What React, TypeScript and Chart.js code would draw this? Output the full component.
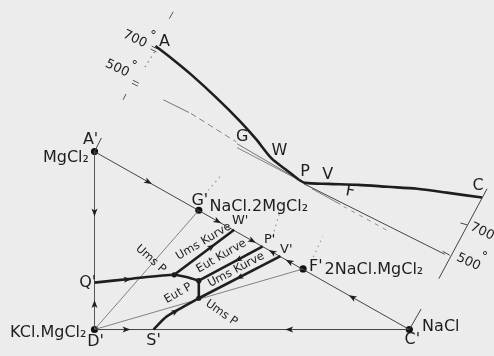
import { useEffect, useRef } from "react";
import { Chart, registerables } from "chart.js";
Chart.register(...registerables);

type P = [number, number];

// ---- bottom (projection) triangle: named points ----
const Ap: P = [92, 151];
const Dp: P = [92, 333];
const Cp: P = [412, 333];
const Gp: P = [198, 211];
const Fp: P = [304, 271];
const Wp: P = [234, 231];
const Pp: P = [263, 248];
const Vp: P = [281, 258];
const Qp: P = [92, 285];
const Sp: P = [152, 333];
const E1: P = [173, 277];
const E2: P = [198, 283];
const E3: P = [198, 301];

// ---- upper (space) curves ----
const curveAP: P[] = [[154, 43], [172, 57], [190, 72], [215, 95], [240, 120], [256, 138], [272, 158], [286, 169], [300, 180]];
const curvePC: P[] = [[300, 180], [306, 183], [330, 184], [360, 185], [390, 187], [420, 189], [450, 193], [486, 198]];

// ---- thick crystallisation paths (bottom) ----
const curveQ: P[] = [Qp, [130, 281], E1, [188, 280], E2];
const curveUms1: P[] = [E1, Wp];
const curveEut: P[] = [E2, Pp];
const curveVert: P[] = [E2, E3];
const curveUms2: P[] = [E3, Vp];
const curveS: P[] = [Sp, [165, 320], [180, 311], E3];

// ---- thin lines ----
const triAD: P[] = [Ap, Dp];
const triDC: P[] = [Dp, Cp];
const triAC: P[] = [Ap, Cp];
const tieDG: P[] = [Dp, Gp];
const tieDF: P[] = [Dp, Fp];
const tickA: P[] = [Ap, [99, 137]];
const tickC: P[] = [Cp, [424, 312]];

const gLine1: P[] = [[162, 98], [188, 111]];
const gDash: P[] = [[190, 112], [236, 141]];
const gLine2: P[] = [[237, 143], [300, 180]];
const gLine3: P[] = [[237, 147], [296, 178]];
const pLine: P[] = [[305, 184], [448, 256]];
const pShort: P[] = [[313, 189], [342, 205]];
const pDash: P[] = [[345, 207], [392, 233]];
const cAxis: P[] = [[491, 189], [442, 281]];
const cTick700: P[] = [[464, 224], [471, 226]];
const cTick500: P[] = [[446, 253], [453, 257]];
const aAxisTop: P[] = [[172, 8], [168, 15]];
const aTick700a: P[] = [[150, 43], [156, 46]];
const aTick700b: P[] = [[149, 46], [155, 49]];
const aTick500a: P[] = [[131, 78], [137, 81]];
const aTick500b: P[] = [[130, 81], [136, 84]];
const aDashLow: P[] = [[124, 92], [121, 98]];

// dotted lines
const aDots: P[] = [[153, 49], [141, 68]];
const gDots: P[] = [[204, 195], [220, 176]];
const pDots: P[] = [[273, 238], [284, 200]];
const fDots: P[] = [[312, 264], [324, 238]];

// dots
const bigDots: P[] = [Ap, Dp, Cp, Gp, Fp];
const smallDots: P[] = [E1, E2, E3];

// arrows: [from, to, fraction along]
const arrows: [P, P, number][] = [
  [Ap, Cp, 0.17], [Ap, Cp, 0.39], [Ap, Cp, 0.5],
  [Cp, Ap, 0.434], [Cp, Ap, 0.38], [Cp, Ap, 0.18],
  [Ap, Dp, 0.34], [Dp, Ap, 0.14],
  [Dp, Cp, 0.1], [Cp, Dp, 0.38],
  [Qp, E1, 0.41], [E1, Wp, 0.62], [Pp, E2, 0.38], [Vp, E3, 0.5],
  [[165, 320], [180, 311], 0.6],
];

// labels: [text, x, y, angle°]
const bigLabels: [string, number, number, number][] = [
  ["A'", 88, 139, 0], ["MgCl₂", 63, 157, 0], ["G'", 199, 201, 0],
  ["NaCl.2MgCl₂", 259, 207, 0], ["F'", 317, 269, 0], ["2NaCl.MgCl₂", 376, 272, 0],
  ["Q'", 85, 285, 0], ["KCl.MgCl₂", 45, 336, 0], ["D'", 93, 346, 0],
  ["S'", 152, 345, 0], ["C'", 415, 344, 0], ["NaCl", 444, 330, 0],
  ["A", 163, 39, 0], ["G", 242, 136, 0], ["W", 280, 150, 0], ["P", 306, 172, 0],
  ["V", 329, 175, 0], ["F", 352, 192, 10], ["C", 482, 186, 0],
];
const midLabels: [string, number, number, number][] = [
  ["W'", 240, 222, 0], ["P'", 270, 241, 0], ["V'", 287, 251, 0],
  ["700", 133, 36, 25], ["°", 152, 32, 0], ["500", 115, 66, 25], ["°", 133, 63, 0],
  ["700", 486, 233, 25], ["500", 472, 264, 25], ["°", 489, 258, 0],
];
const smallLabels: [string, number, number, number][] = [
  ["Ums Kurve", 203, 243, -31], ["Eut Kurve", 221, 258, -30], ["Ums Kurve", 236, 272, -28],
  ["Ums P", 149, 261, 42], ["Eut P", 177, 296, -30], ["Ums P", 221, 316, 35],
];

const INK = "#1e1e1e";

export default function App() {
  const ref = useRef<HTMLCanvasElement>(null);
  useEffect(() => {
    const toXY = (pts: P[]) => pts.map(([x, y]) => ({ x, y }));
    const line = (pts: P[], width: number, color = INK, dash: number[] = [], tension = 0) => ({
      data: toXY(pts), showLine: true, borderColor: color, borderWidth: width, borderDash: dash,
      pointRadius: 0, tension, fill: false,
    });
    const thick = 2.6;
    const datasets: any[] = [
      line(curveAP, thick, INK, [], 0.3), line(curvePC, thick, INK, [], 0.3),
      line(curveQ, thick, INK, [], 0.2), line(curveUms1, thick), line(curveEut, thick),
      line(curveVert, thick), line(curveUms2, thick), line(curveS, thick, INK, [], 0.3),
      line(triAD, 1, "#555"), line(triDC, 1, "#444"), line(triAC, 1, "#444"),
      line(tieDG, 0.8, "#666"), line(tieDF, 0.8, "#666"), line(tickA, 1, "#444"), line(tickC, 1, "#444"),
      line(gLine1, 0.8, "#555"), line(gDash, 0.8, "#666", [6, 4]), line(gLine2, 0.8, "#555"), line(gLine3, 0.8, "#666"),
      line(pLine, 1, "#444"), line(pShort, 0.8, "#666"), line(pDash, 0.8, "#777", [4, 5]),
      line(cAxis, 1, "#444"), line(cTick700, 1, "#444"), line(cTick500, 1, "#444"),
      line(aAxisTop, 1, "#555"), line(aTick700a, 1, "#555"), line(aTick700b, 1, "#555"),
      line(aTick500a, 1, "#555"), line(aTick500b, 1, "#555"), line(aDashLow, 1, "#555"),
      line(aDots, 1.2, "#888", [1.5, 4]), line(gDots, 1.2, "#999", [1.5, 4]),
      line(pDots, 1.2, "#999", [1.5, 4]), line(fDots, 1.2, "#999", [1.5, 4]),
      { data: toXY(bigDots), pointRadius: 3.6, pointBackgroundColor: "#111", pointBorderWidth: 0, showLine: false },
      { data: toXY(smallDots), pointRadius: 2.6, pointBackgroundColor: "#111", pointBorderWidth: 0, showLine: false },
    ];

    const deco = {
      id: "deco",
      beforeDraw(chart: any) {
        const c = chart.ctx;
        c.save();
        c.fillStyle = "#ececec";
        c.fillRect(0, 0, chart.width, chart.height);
        c.restore();
      },
      afterDatasetsDraw(chart: any) {
        const c = chart.ctx;
        const sx = chart.scales.x, sy = chart.scales.y;
        const px = (p: P): P => [sx.getPixelForValue(p[0]), sy.getPixelForValue(p[1])];
        c.save();
        c.fillStyle = INK;
        for (const [a, b, t] of arrows) {
          const pa = px(a), pb = px(b);
          const x = pa[0] + (pb[0] - pa[0]) * t, y = pa[1] + (pb[1] - pa[1]) * t;
          const ang = Math.atan2(pb[1] - pa[1], pb[0] - pa[0]);
          c.save();
          c.translate(x, y);
          c.rotate(ang);
          c.beginPath();
          c.moveTo(4.5, 0);
          c.lineTo(-3.5, -3);
          c.lineTo(-1.5, 0);
          c.lineTo(-3.5, 3);
          c.closePath();
          c.fill();
          c.restore();
        }
        const txt = (list: [string, number, number, number][], font: string) => {
          c.font = font;
          c.textAlign = "center";
          c.textBaseline = "middle";
          for (const [s, x, y, a] of list) {
            const [X, Y] = px([x, y]);
            c.save();
            c.translate(X, Y);
            c.rotate((a * Math.PI) / 180);
            c.fillText(s, 0, 0);
            c.restore();
          }
        };
        c.fillStyle = INK;
        txt(bigLabels, "16px 'DejaVu Sans'");
        txt(midLabels, "13px 'DejaVu Sans'");
        txt(smallLabels, "11.5px 'DejaVu Sans'");
        c.restore();
      },
    };

    const chart = new Chart(ref.current!, {
      type: "scatter",
      data: { datasets },
      options: {
        animation: false,
        responsive: false,
        events: [],
        layout: { padding: 0 },
        plugins: { legend: { display: false }, tooltip: { enabled: false } },
        scales: {
          x: { type: "linear", min: 0, max: 494, display: false },
          y: { type: "linear", min: 0, max: 356, reverse: true, display: false },
        },
      },
      plugins: [deco],
    });
    return () => chart.destroy();
  }, []);
  return (
    <div style={{ position: "fixed", left: 0, top: 0, width: 494, height: 356 }}>
      <canvas ref={ref} width={494} height={356} />
    </div>
  );
}
